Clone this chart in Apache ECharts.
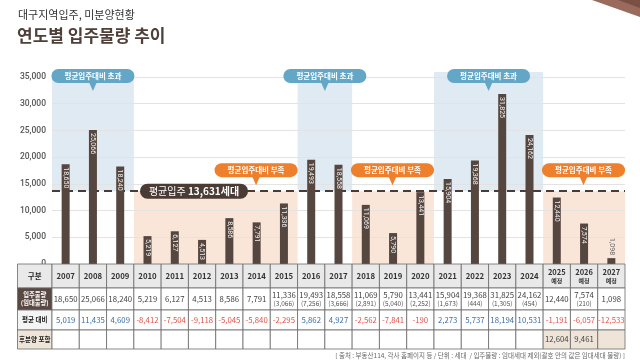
<!DOCTYPE html>
<html><head><meta charset="utf-8">
<script src="https://cdn.jsdelivr.net/npm/echarts@6/dist/echarts.min.js"></script>
<style>html,body{margin:0;padding:0;background:#fff}#c{width:640px;height:363px}</style>
</head><body><div id="c"></div>
<script>
// ---- data ----
const years = ['2007','2008','2009','2010','2011','2012','2013','2014','2015','2016','2017','2018','2019','2020','2021','2022','2023','2024','2025','2026','2027'];
const yearNotes = ['','','','','','','','','','','','','','','','','','','예정','예정','예정'];
const supply = [18650,25066,18240,5219,6127,4513,8586,7791,11336,19493,18558,11069,5790,13441,15904,19368,31825,24162,12440,7574,1098];
const rental = [null,null,null,null,null,null,null,null,3066,7256,3666,2891,5040,2252,1673,444,1305,454,null,210,null];
const vsAverage = [5019,11435,4609,-8412,-7504,-9118,-5045,-5840,-2295,5862,4927,-2562,-7841,-190,2273,5737,18194,10531,-1191,-6057,-12533];
const postSale = [null,null,null,null,null,null,null,null,null,null,null,null,null,null,null,null,null,null,12604,9461,null];
const average = 13631;
const aboveRanges = [['2007','2009'],['2016','2017'],['2021','2024']];
const belowRanges = [['2010','2015'],['2018','2020'],['2025','2027']];
const rowLabels = ['구분','입주물량\n(임대물량)','평균 대비','후분양 포함'];
const aboveText = '평균입주대비 초과';
const belowText = '평균입주대비 부족';
const avgLabelPrefix = '평균입주 ';
const avgLabelSuffix = '세대';
const titleSmall = '대구지역입주, 미분양현황';
const titleBig = '연도별 입주물량 추이';
const footnote = '[ 출처 : 부동산114, 각사 홈페이지 등 / 단위 : 세대  / 입주물량 : 임대세대 제외(괄호 안의 값은 임대세대 물량) ]';

const fmt = v => (v < 0 ? '-' : '') + String(Math.abs(v)).replace(/\B(?=(\d{3})+(?!\d))/g, ',');
const FONT = '"Noto Sans CJK KR", "Noto Sans", sans-serif';
const BROWN = '#564640';

const chart = echarts.init(document.getElementById('c'));
chart.setOption({
  animation: false,
  textStyle: { fontFamily: FONT },
  grid: { left: 52, right: 15, top: 77, bottom: 99 },
  xAxis: { type: 'category', data: years, axisLine: { show: false }, axisTick: { show: false }, axisLabel: { show: false } },
  yAxis: {
    type: 'value', min: 0, max: 35000, interval: 5000,
    axisLine: { show: false }, axisTick: { show: false },
    axisLabel: { fontSize: 8.5, color: '#555', margin: 6, fontFamily: 'Roboto, sans-serif', fontWeight: 500, formatter: v => fmt(v) },
    splitLine: { lineStyle: { color: '#e3e3e3', width: 1 } }
  },
  series: [{
    type: 'bar', barWidth: 8, z: 5,
    itemStyle: { color: BROWN },
    data: supply.map(v => v < 3000 ? {
      value: v,
      label: { position: 'top', align: 'right', verticalAlign: 'middle', color: '#666', distance: 3 }
    } : v),
    label: {
      show: true, position: 'insideTop', rotate: -90, align: 'left', verticalAlign: 'middle',
      distance: 3, color: '#f2f2f2', fontSize: 7, fontFamily: 'Roboto, sans-serif',
      formatter: p => fmt(p.value)
    },
    markLine: {
      silent: true, symbol: 'none', z: 4,
      label: { show: false },
      lineStyle: { color: '#4a3b35', type: [8, 5], width: 2 },
      data: [{ yAxis: average }]
    }
  }]
});

// ---- decorations, shading, table ----
const xc = i => chart.convertToPixel({ xAxisIndex: 0 }, years[i]);
const yp = v => chart.convertToPixel({ yAxisIndex: 0 }, v);
const colW = xc(1) - xc(0);
const colL = i => xc(i) - colW / 2;
const idx = y => years.indexOf(y);
const yTop = yp(35000), yAvg = yp(average), yZero = yp(0);
const g = [];

// top-right decoration
g.push({ type: 'polygon', shape: { points: [[592, 0], [640, 0], [640, 17]] }, style: { fill: '#9a6a5c' } });
g.push({ type: 'polygon', shape: { points: [[618, 0], [640, 0], [640, 8]] }, style: { fill: '#7a5044' } });

// titles
g.push({ type: 'text', left: 18, top: 9, style: { text: titleSmall, fontSize: 11, fill: '#333', fontFamily: FONT } });
g.push({ type: 'text', left: 17, top: 27, style: { text: titleBig, fontSize: 17, fontWeight: 'bold', fill: '#4e4039', fontFamily: FONT } });

// shaded regions + callouts
function callout(cx, top, color, text) {
  g.push({ type: 'rect', z: 20, shape: { x: cx - 41.5, y: top, width: 83, height: 14, r: 7 }, style: { fill: color } });
  g.push({ type: 'polygon', z: 20, shape: { points: [[cx - 4, top + 13], [cx + 4, top + 13], [cx, top + 22]] }, style: { fill: color } });
  g.push({ type: 'text', z: 21, x: cx, y: top + 7, style: { text: text, fontSize: 7.5, fill: '#fff', align: 'center', verticalAlign: 'middle', fontFamily: FONT, fontWeight: 'bold' } });
}
aboveRanges.forEach(([a, b]) => {
  const x1 = colL(idx(a)), x2 = colL(idx(b)) + colW;
  g.push({ type: 'rect', z: -1, shape: { x: x1, y: yTop - 5, width: x2 - x1, height: yAvg - yTop + 5 }, style: { fill: '#dfeaf2' } });
  callout((x1 + x2) / 2, yTop - 8, '#64a6c6', aboveText);
});
belowRanges.forEach(([a, b]) => {
  const x1 = colL(idx(a)), x2 = colL(idx(b)) + colW;
  g.push({ type: 'rect', z: -1, shape: { x: x1, y: yAvg, width: x2 - x1, height: yZero - yAvg }, style: { fill: '#fae6d9' } });
  callout(x2 - 41.5, yAvg - 28, '#ee7f2d', belowText);
});

// average pill
g.push({ type: 'rect', z: 20, shape: { x: 140, y: yAvg - 7.5, width: 108, height: 15, r: 7.5 }, style: { fill: '#4a3b35' } });
g.push({ type: 'text', z: 21, x: 194, y: yAvg, style: {
  text: '{a|' + avgLabelPrefix + '}{b|' + fmt(average) + avgLabelSuffix + '}', align: 'center', verticalAlign: 'middle',
  rich: { a: { fontSize: 10, fill: '#fff', color: '#fff', fontFamily: FONT }, b: { fontSize: 10, fontWeight: 'bold', fill: '#fff', color: '#fff', fontFamily: FONT } }
} });

// table
const rowsY = [264, 288, 310, 330, 349];
const tL = 17.5, tR = colL(years.length - 1) + colW;
const labelW = colL(0) - tL;
const Z = 30;
const cell = (x, y, w, h, fill) => g.push({ type: 'rect', z: Z, shape: { x: x, y: y, width: w, height: h }, style: { fill: fill, stroke: '#6a6a6a', lineWidth: 0.8 } });
const txt = (x, y, t, o) => g.push({ type: 'text', z: Z + 1, x: x, y: y, style: Object.assign({ text: t, align: 'center', verticalAlign: 'middle', fontFamily: FONT, fontSize: 8, fill: '#444' }, o || {}) });
const labelFills = ['#e9e9e9', '#5a4943', '#f4f4f4', '#efe4d8'];
for (let r = 0; r < 4; r++) {
  const y = rowsY[r], h = rowsY[r + 1] - rowsY[r];
  cell(tL, y, labelW, h, labelFills[r]);
  const lbl = rowLabels[r];
  if (r === 1) {
    txt(tL + labelW / 2, y + h / 2, lbl, { fontSize: 6.3, fill: '#fff', fontWeight: 'bold', lineHeight: 8 });
  } else {
    txt(tL + labelW / 2, y + h / 2, lbl, { fontSize: r === 0 ? 7.5 : 6.5, fill: '#222', fontWeight: 'bold' });
  }
}
years.forEach((yr, i) => {
  const x = colL(i), cx = xc(i);
  // header
  cell(x, rowsY[0], colW, rowsY[1] - rowsY[0], '#e9e9e9');
  if (yearNotes[i]) {
    txt(cx, rowsY[0] + 8, yr, { fontWeight: 'bold', fontSize: 7.5, fill: '#333' });
    txt(cx, rowsY[0] + 17, yearNotes[i], { fontWeight: 'bold', fontSize: 6, fill: '#333' });
  } else {
    txt(cx, (rowsY[0] + rowsY[1]) / 2, yr, { fontWeight: 'bold', fontSize: 7.8, fill: '#333' });
  }
  // supply
  cell(x, rowsY[1], colW, rowsY[2] - rowsY[1], '#fff');
  if (rental[i] != null) {
    txt(cx, rowsY[1] + 7, fmt(supply[i]), { fontSize: 7.8 });
    txt(cx, rowsY[1] + 16, '(' + fmt(rental[i]) + ')', { fontSize: 6.5, fill: '#555' });
  } else {
    txt(cx, (rowsY[1] + rowsY[2]) / 2, fmt(supply[i]), { fontSize: 7.8 });
  }
  // vs average
  cell(x, rowsY[2], colW, rowsY[3] - rowsY[2], '#fff');
  txt(cx, (rowsY[2] + rowsY[3]) / 2, fmt(vsAverage[i]), { fontSize: 7.8, fill: vsAverage[i] < 0 ? '#e2544a' : '#3b6ea8' });
  // post sale
  const inFuture = yearNotes[i] !== '';
  cell(x, rowsY[3], colW, rowsY[4] - rowsY[3], inFuture ? '#efe4d8' : '#fff');
  if (postSale[i] != null) txt(cx, (rowsY[3] + rowsY[4]) / 2, fmt(postSale[i]), { fontSize: 7.8 });
});

// footnote
g.push({ type: 'text', z: Z, x: tR, y: 356, style: { text: footnote, align: 'right', verticalAlign: 'middle', fontSize: 6.5, fill: '#666', fontFamily: FONT } });

chart.setOption({ graphic: { elements: g } });
</script>
</body></html>
